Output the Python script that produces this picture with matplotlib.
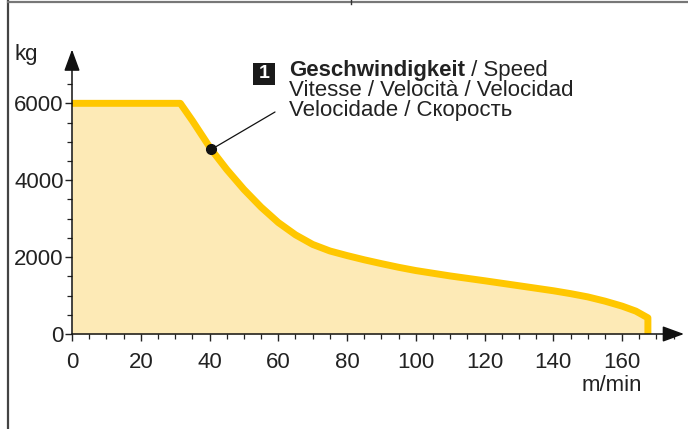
import matplotlib
matplotlib.use("Agg")
import matplotlib.pyplot as plt
from matplotlib.patches import Rectangle
from matplotlib.lines import Line2D
from matplotlib.ticker import MultipleLocator

plt.rcParams['font.family'] = ['Liberation Sans', 'DejaVu Sans']

# Data
speed = [0, 31.5, 35, 40.5, 45, 50, 55, 60, 65, 70, 75, 80, 85, 90, 95, 100, 110, 120, 130, 135, 140, 145,
         150, 155, 160, 164, 167.5, 167.5]
load = [6000, 6000, 5550, 4800, 4280, 3760, 3300, 2900, 2580, 2330, 2160, 2040, 1930, 1830, 1735, 1650, 1510,
        1385, 1255, 1190, 1125, 1050, 965, 855, 725, 595, 420, 0]
x_ticks = [0, 20, 40, 60, 80, 100, 120, 140, 160]
y_ticks = [0, 2000, 4000, 6000]
marker_x, marker_y = 40.5, 4800
legend_bold = "Geschwindigkeit"
legend_lines = [" / Speed", "Vitesse / Velocità / Velocidad", "Velocidade / Скорость"]
x_unit = "m/min"
y_unit = "kg"

W, H = 688, 429
fig = plt.figure(figsize=(W / 100, H / 100), dpi=100)

def fx(px):
    return px / W

def fy(py):
    return 1 - py / H

FS = 16
ax = fig.add_axes([fx(72), fy(334), (684 - 72) / W, (334 - 49.5) / H])
ax.set_xlim(0, 178)
ax.set_ylim(0, 7400)

line_col = "#FFC700"
fill_col = "#FDEAB6"
ax.fill_between(speed, load, 0, color=fill_col, lw=0, zorder=1)
ax.plot(speed, load, color=line_col, lw=5, solid_joinstyle='round', solid_capstyle='butt', zorder=2, clip_on=False)

for s in ax.spines.values():
    s.set_visible(False)

ax.set_xticks(x_ticks)
ax.set_yticks(y_ticks)
ax.xaxis.set_minor_locator(MultipleLocator(5))
ax.yaxis.set_minor_locator(MultipleLocator(500))
ax.set_xticklabels([str(v) for v in x_ticks])
ax.set_yticklabels([str(v) for v in y_ticks])
ax.tick_params(axis='x', which='major', length=5, width=1, direction='out', pad=8, labelsize=FS, color='#222')
ax.tick_params(axis='x', which='minor', length=3.5, width=0.9, direction='out', color='#222')
ax.tick_params(axis='y', which='major', length=5, width=1, direction='out', pad=1, labelsize=FS, color='#222')
ax.tick_params(axis='y', which='minor', length=3.5, width=0.9, direction='out', color='#222')
for lab in ax.get_xticklabels() + ax.get_yticklabels():
    lab.set_color('#222')
ax.set_axisbelow(False)

# axes with arrows
arrow_style = "-|>,head_length=0.6,head_width=0.22"
ax.annotate('', xy=(1, 0), xytext=(0, 0), xycoords='axes fraction', textcoords='axes fraction',
            arrowprops=dict(arrowstyle=arrow_style, color='#111', lw=1.1, mutation_scale=22,
                            shrinkA=0, shrinkB=0), zorder=5, annotation_clip=False)
ax.annotate('', xy=(0, 1), xytext=(0, 0), xycoords='axes fraction', textcoords='axes fraction',
            arrowprops=dict(arrowstyle=arrow_style, color='#111', lw=1.1, mutation_scale=22,
                            shrinkA=0, shrinkB=0), zorder=5, annotation_clip=False)

# marker and leader line
ax.plot([marker_x], [marker_y], 'o', color='#111', ms=7, zorder=6, clip_on=False)
ax.annotate('', xy=(marker_x, marker_y), xycoords='data',
            xytext=(275, H - 112), textcoords='figure pixels',
            arrowprops=dict(arrowstyle='-', color='#111', lw=0.9, shrinkA=0, shrinkB=0),
            annotation_clip=False)

# unit labels
fig.text(fx(14), fy(60), y_unit, fontsize=FS, color='#222', ha='left', va='baseline')
fig.text(fx(642), fy(391), x_unit, fontsize=FS, color='#222', ha='right', va='baseline')

# legend box
fig.patches.append(Rectangle((fx(253), fy(85)), 22 / W, 22 / H, transform=fig.transFigure,
                             facecolor='#1a1a1a', edgecolor='none'))
fig.text(fx(264), fy(74), "1", fontsize=14, fontweight='bold', color='white', ha='center', va='center')

t1 = fig.text(fx(289), fy(76), legend_bold, fontsize=FS, fontweight='bold', color='#222', ha='left', va='baseline')
fig.canvas.draw()
bb = t1.get_window_extent(renderer=fig.canvas.get_renderer())
fig.text(bb.x1 / W, fy(76), legend_lines[0], fontsize=FS, color='#222', ha='left', va='baseline')
fig.text(fx(289), fy(96), legend_lines[1], fontsize=FS, color='#222', ha='left', va='baseline')
fig.text(fx(289), fy(116), legend_lines[2], fontsize=FS, color='#222', ha='left', va='baseline')

# frame lines of the page
fig.add_artist(Line2D([fx(8.3), fx(8.3)], [0, 1], transform=fig.transFigure, color='#444', lw=1.6))
fig.add_artist(Line2D([fx(8.3), 1], [fy(2.2), fy(2.2)], transform=fig.transFigure, color='#777', lw=1.6))
fig.add_artist(Line2D([fx(351), fx(351)], [1, fy(4)], transform=fig.transFigure, color='#333', lw=1.0))

fig.savefig("out.png", dpi=100)
